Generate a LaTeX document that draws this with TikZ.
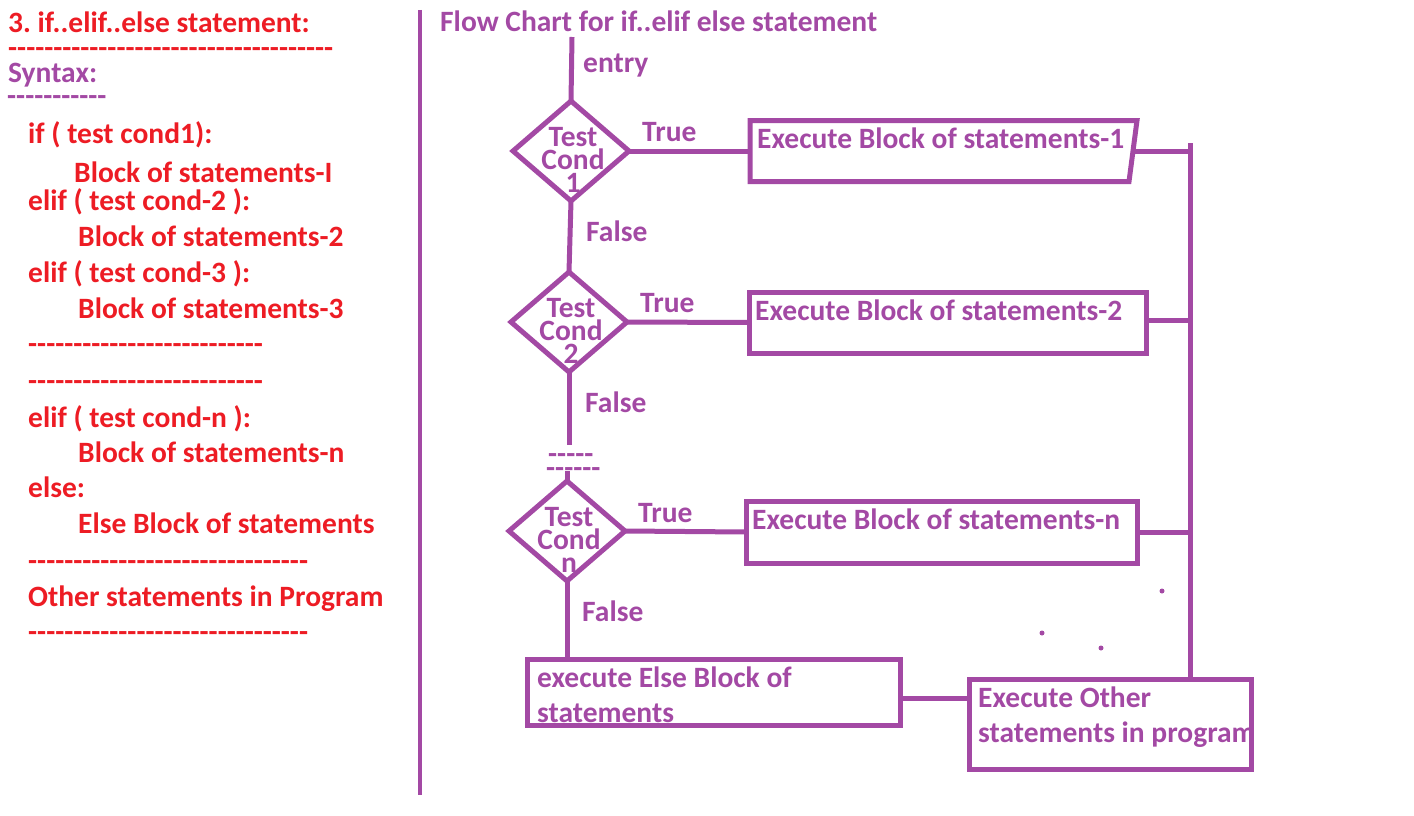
\documentclass[tikz,border=0pt]{standalone}
\usepackage{fontspec}
\setmainfont{Carlito}
\usetikzlibrary{shapes.geometric}

\definecolor{synred}{HTML}{ED1C24}
\definecolor{flowpurple}{HTML}{A349A4}

\newcommand{\hyphenrow}[1]{\foreach \k in {1,...,#1}{-}}
\frenchspacing

\tikzset{
  txt/.style={anchor=base west,inner sep=0pt,font=\fontsize{29.5}{35}\selectfont\bfseries},
  codetxt/.style={txt,text=synred},
  flowtxt/.style={txt,text=flowpurple},
  condtxt/.style={inner sep=0pt,align=center,text=flowpurple,font=\fontsize{29.5}{23}\selectfont\bfseries},
  cond/.style={diamond,draw=flowpurple,line width=5pt,minimum width=116pt,minimum height=100pt,inner sep=0pt,outer sep=0pt},
  block/.style={rectangle,draw=flowpurple,line width=5pt,inner sep=0pt,outer sep=0pt},
  link/.style={draw=flowpurple,line width=5pt},
}

\begin{document}
\begin{tikzpicture}[x=1pt,y=-1pt]
\useasboundingbox (0,0) rectangle (1414,816);

% syntax column
\node[codetxt] (head) at (8,33) {3. if..elif..else statement:};
\node[codetxt] (headrule) at (8,58) {\hyphenrow{36}};
\node[flowtxt] (syntax) at (8,83) {Syntax:};
\node[flowtxt] (syntaxrule) at (7,105) {\hyphenrow{11}};

\node[codetxt] (if1) at (28,143) {if ( test cond1):};
\node[codetxt] (blk1) at (74,182) {Block of statements-I};
\node[codetxt] (if2) at (28,210) {elif ( test cond-2 ):};
\node[codetxt] (blk2) at (78,246) {Block of statements-2};
\node[codetxt] (if3) at (28,282) {elif ( test cond-3 ):};
\node[codetxt] (blk3) at (78,318) {Block of statements-3};
\node[codetxt] (gap1) at (28,353) {\hyphenrow{26}};
\node[codetxt] (gap2) at (28,390) {\hyphenrow{26}};
\node[codetxt] (ifn) at (28,427) {elif ( test cond-n ):};
\node[codetxt] (blkn) at (78,462) {Block of statements-n};
\node[codetxt] (else) at (28,497) {else:};
\node[codetxt] (blkelse) at (78,533) {Else Block of statements};
\node[codetxt] (gap3) at (28,570) {\hyphenrow{31}};
\node[codetxt] (other) at (28,606) {Other statements in Program};
\node[codetxt] (gap4) at (28,641) {\hyphenrow{31}};

\draw[flowpurple,line width=4pt] (420,10) -- (420,795);

% flow chart
\node[flowtxt] (title) at (440,32) {Flow Chart for if..elif else statement};

\node[cond] (d1) at (571,151) {};
\node[cond] (d2) at (569,322) {};
\node[cond] (dn) at (567,531) {};
\node[condtxt] (t1) at (573,160) {Test\\Cond\\1};
\node[condtxt] (t2) at (571,331) {Test\\Cond\\2};
\node[condtxt] (tn) at (569,540) {Test\\Cond\\n};

\node[block,draw=none,minimum width=383pt,minimum height=61pt] (b1) at (941.5,151) {};
\draw[link] (b1.north west) -- ([xshift=4pt]b1.north east) -- ([xshift=-4pt]b1.south east) -- (b1.south west) -- cycle;
\node[block,minimum width=397pt,minimum height=61pt] (b2) at (947.5,322.5) {};
\node[block,minimum width=391pt,minimum height=62pt] (bn) at (941.5,532) {};
\node[block,minimum width=373pt,minimum height=66pt] (elseb) at (713.5,692) {};
\node[block,minimum width=282pt,minimum height=90pt] (otherb) at (1110,724) {};

\node[flowtxt] (b1t) at (757,148) {Execute Block of statements-1};
\node[flowtxt] (b2t) at (755,320) {Execute Block of statements-2};
\node[flowtxt] (bnt) at (752,529) {Execute Block of statements-n};
\node[flowtxt,align=left,anchor=north west] (elset) at (537,667) {execute Else Block of\\statements};
\node[flowtxt,align=left,anchor=north west] (othert) at (978,687) {Execute Other\\statements in program};

\coordinate (entrytop) at (572,37);
\coordinate (gapend) at (569,445);
\coordinate (gapstart) at (567,471);
\coordinate (bustop) at (1190,143);

\draw[link] (entrytop) -- (d1.north);
\draw[link] (d1.south) -- (d2.north);
\draw[link] (d2.south) -- (gapend);
\draw[link] (gapstart) -- (dn.north);
\draw[link] (dn.south) -- (dn.south |- elseb.north);

\draw[link] (d1.east) -- (b1.west);
\draw[link] (d2.east) -- (b2.west);
\draw[link] (dn.east) -- (bn.west);

\draw[link] (b1.east) -- (b1.east -| bustop);
\draw[link] ([yshift=2pt]b2.east) -- ([yshift=2pt]b2.east -| bustop);
\draw[link] (bn.east) -- (bn.east -| bustop);
\draw[link] (bustop) -- (bustop |- otherb.north);
\draw[link] ([yshift=-6pt]elseb.east) -- ([yshift=-6pt]elseb.east -| otherb.west);

\node[flowtxt] (entry) at (583,73) {entry};
\node[flowtxt] (true1) at (642,141) {True};
\node[flowtxt] (false1) at (586,241) {False};
\node[flowtxt] (true2) at (640,312) {True};
\node[flowtxt] (false2) at (585,412) {False};
\node[flowtxt] (dots1) at (548,463) {\hyphenrow{5}};
\node[flowtxt] (dots2) at (546,477) {\hyphenrow{6}};
\node[flowtxt] (truen) at (638,522) {True};
\node[flowtxt] (falsen) at (582,621) {False};

% stray specks
\fill[flowpurple] (1162,591) circle (2.5pt) (1042,633) circle (2.5pt) (1101,648) circle (2.5pt);
\end{tikzpicture}
\end{document}
